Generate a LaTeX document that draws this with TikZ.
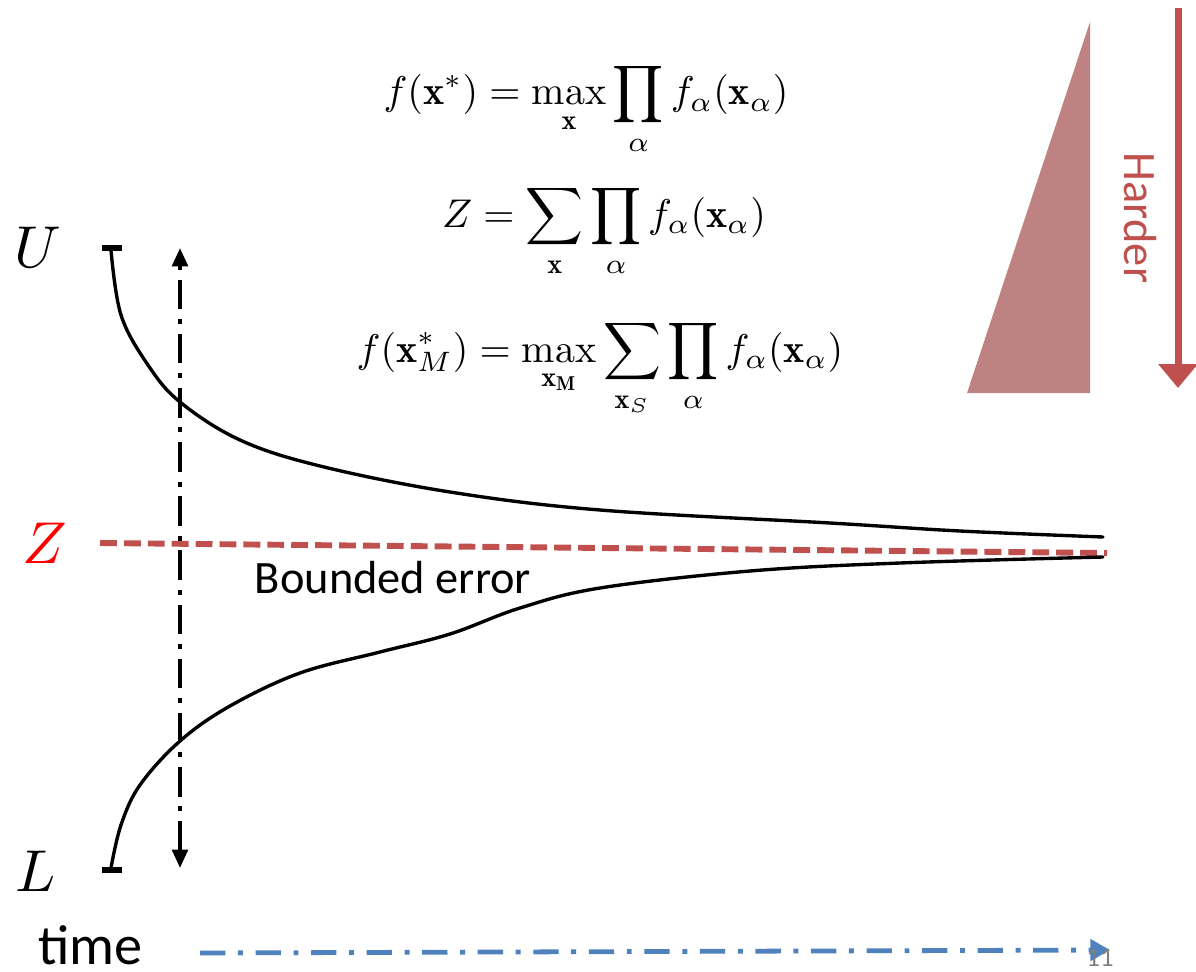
\documentclass[tikz,border=0pt]{standalone}
\usepackage{amsmath,amssymb}
\usepackage{fontspec}
\newfontfamily\calibri{Carlito}
\usetikzlibrary{arrows.meta}

\definecolor{accred}{RGB}{192,80,77}
\definecolor{wedge}{RGB}{190,130,130}
\definecolor{accblue}{RGB}{79,129,189}

\begin{document}
\begin{tikzpicture}[
		x={(0.025cm,0cm)},
		y={(0cm,-0.025cm)},
		>=Latex,
		eqn/.style={scale=2.85, anchor=base, inner sep=0pt},
		bigsym/.style={scale=4.2, inner sep=0pt},
		bound/.style={line width=2.4pt, line cap=round},
		tickbar/.style={line width=4.5pt},
		probe/.style={line width=2.8pt, dash pattern=on 21pt off 7pt on 3.5pt off 7pt}
		]
		\useasboundingbox (0,0) rectangle (1196,972);
		
		% problems, easiest on top
		\node[eqn] (maxprob) at (586,105)
		{$\displaystyle f(\mathbf{x}^*) = \max_{\mathbf{x}} \prod_{\alpha} f_\alpha(\mathbf{x}_\alpha)$};
		\node[eqn] (partfn) at (604,227)
		{$\displaystyle Z = \sum_{\mathbf{x}} \prod_{\alpha} f_\alpha(\mathbf{x}_\alpha)$};
		\node[eqn] (mmap) at (600,362)
		{$\displaystyle f(\mathbf{x}_M^*) = \max_{\mathbf{x}_{\mathbf{M}}} \sum_{\mathbf{x}_S} \prod_{\alpha} f_\alpha(\mathbf{x}_\alpha)$};
		
		% difficulty wedge
		\fill[wedge] (967,393) -- (1090,22) -- (1090,393) -- cycle;
		\coordinate (hardtop) at (1178,8);
		\coordinate (hardbot) at (1178,388);
		\draw[accred, line width=5pt, -{Triangle[length=17pt, width=27pt]}] (hardtop) -- (hardbot);
		\node[text=accred, rotate=-90, font=\calibri\fontsize{33}{40}\selectfont] (harder) at (1140,218) {Harder};
		
		% bound labels
		\node[bigsym] (ulab) at (38,247) {$U$};
		\node[bigsym] (llab) at (36,871) {$L$};
		\node[bigsym, text=red] (zlab) at (45,543) {$Z$};
		
		% true value
		\coordinate (zleft) at (100,543);
		\coordinate (zright) at (1107,553);
		\draw[accred, line width=4.2pt, dash pattern=on 12pt off 5pt] (zleft) -- (zright);
		
		% upper and lower bounds
		\draw[tickbar] (102,248) -- (122,248);
		\draw[tickbar] (102,870) -- (122,870);
		\draw[bound] plot[smooth, tension=0.6] coordinates {(111,250) (121,315) (148,365) (180,402) (240,440) (320,466) (450,492) (600,510) (830,523) (960,531) (1103,537)};
		\draw[bound] plot[smooth, tension=0.6] coordinates {(111,868) (121,825) (140,785) (180,741) (230,706) (300,673) (380,652) (450,634) (520,608) (600,588) (750,571) (900,563) (1103,557)};
		
		\node[font=\calibri\fontsize{33}{40}\selectfont, anchor=west] (gap) at (250,578) {Bounded error};
		
		% anytime probe
		\coordinate (probetop) at (180,248);
		\coordinate (probebot) at (180,868);
		\draw[probe, {Triangle[length=13pt, width=11pt]}-{Triangle[length=13pt, width=11pt]}] (probebot) -- (probetop);
		
		% time axis
		\node[font=\calibri\fontsize{40}{48}\selectfont, anchor=base west, inner sep=0pt] (timelab) at (38,964) {time};
		\coordinate (tstart) at (200,953);
		\coordinate (tend) at (1110,950);
		\draw[accblue, line width=3.4pt, dash pattern=on 18pt off 9pt on 3.5pt off 9pt, -{Triangle[length=14pt, width=15pt]}] (tstart) -- (tend);
		\node[text=gray, font=\calibri\fontsize{19}{22}\selectfont] (pagenum) at (1100,958) {11};
		
	\end{tikzpicture}
\end{document}
